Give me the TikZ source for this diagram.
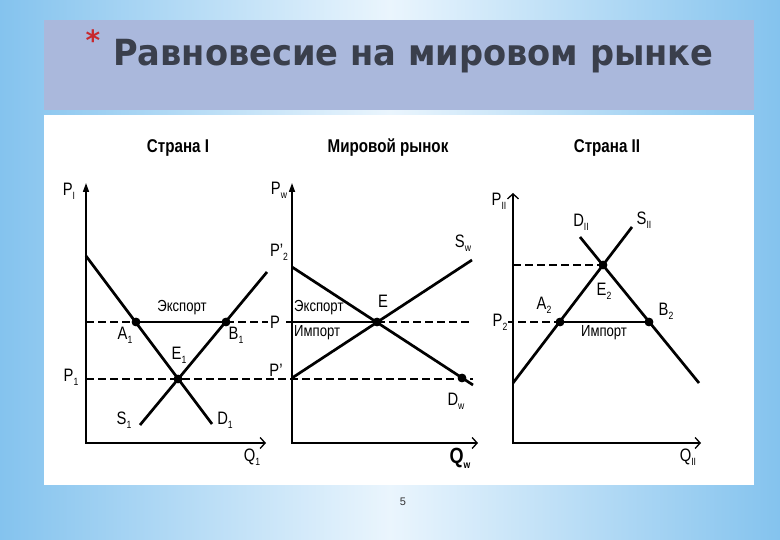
\documentclass[tikz,border=0pt]{standalone}
\usepackage{fontspec}
\usepackage{graphicx}
\setmainfont{Liberation Sans}[FakeStretch=0.82]
\newfontfamily\titlefont{DejaVu Sans}
\newfontfamily\plainfont{Liberation Sans}
\usetikzlibrary{arrows.meta}
\definecolor{bgout}{HTML}{84C3EE}
\definecolor{bgin}{HTML}{EAF5FD}
\definecolor{band}{HTML}{AAB8DC}
\definecolor{titlec}{HTML}{3A3F4C}
\definecolor{starc}{HTML}{C8282E}
\newcommand\sbx[1]{\raisebox{-0.45ex}{\fontsize{10.5}{10.5}\selectfont #1}}
\tikzset{
  curve/.style={line width=2.7pt},
  axisline/.style={line width=1.6pt},
  dashline/.style={line width=1.3pt, dash pattern=on 7.5pt off 4.5pt},
  solidline/.style={line width=1.3pt},
  dot/.style={circle, fill=black, inner sep=0pt, minimum size=8.5pt},
  lbl/.style={font=\fontsize{16}{16}\selectfont, inner sep=1pt},
  sym/.style={font=\fontsize{18}{18}\selectfont, inner sep=1pt},
  ttl/.style={font=\bfseries\fontsize{18.5}{18.5}\selectfont, inner sep=1pt},
  tipfill/.tip={Triangle[length=9pt,width=6pt]},
  tipopen/.tip={Straight Barb[length=5pt,width=11pt,line width=1.3pt]}
}
\begin{document}
\begin{tikzpicture}[x=1pt,y=-1pt]
\useasboundingbox (0,0) rectangle (780,540);
% background
\shade[left color=bgout, right color=bgout, middle color=bgin] (0,0) rectangle (780,540);
\fill[band] (44,20) rectangle (754,110);
\fill[white] (44,115) rectangle (754,485);
% title
\node[text=starc, font=\titlefont\bfseries\fontsize{28}{28}\selectfont, inner sep=0pt] (star) at (93,40) {*};
\node[anchor=base west, text=titlec, inner sep=0pt, font=\titlefont\bfseries\fontsize{36}{36}\selectfont] (title) at (113,66) {\scalebox{0.935}[1]{Равновесие на мировом рынке}};
% panel titles
\node[ttl] (t1) at (178,148) {Страна I};
\node[ttl] (t2) at (388,148) {Мировой рынок};
\node[ttl] (t3) at (607,148) {Страна II};
% coordinates
\coordinate (O1) at (86,443); \coordinate (T1) at (86,183); \coordinate (R1) at (266,443);
\coordinate (O2) at (292,443); \coordinate (T2) at (292,183); \coordinate (R2) at (478,443);
\coordinate (O3) at (513,443); \coordinate (T3) at (513,193); \coordinate (R3) at (701,443);
\coordinate (D1a) at (86,256); \coordinate (D1b) at (212,424);
\coordinate (S1a) at (140,425); \coordinate (S1b) at (267,272);
\coordinate (Dwa) at (292,267); \coordinate (Dwb) at (473,385);
\coordinate (Swa) at (292,378); \coordinate (Swb) at (472,260);
\coordinate (D2a) at (580,237); \coordinate (D2b) at (699,383);
\coordinate (S2a) at (513,383); \coordinate (S2b) at (632,227);
\coordinate (PL) at (86,322); \coordinate (PM) at (292,322); \coordinate (PR) at (473,322);
\coordinate (P1L) at (86,379); \coordinate (P1R) at (473,379);
\coordinate (P2L) at (506,322); \coordinate (EL) at (513,265);
% points
\node[dot] (E1) at (178,379) {};
\node[dot] (A1) at (136,322) {};
\node[dot] (B1) at (226,322) {};
\node[dot] (E) at (377,322) {};
\node[dot] (Dd) at (462,378) {};
\node[dot] (E2) at (603,265) {};
\node[dot] (A2) at (560,322) {};
\node[dot] (B2) at (649,322) {};
% horizontal lines
\draw[dashline] (PL) -- (A1.center);
\draw[solidline] (A1.center) -- (B1.center);
\draw[dashline] (B1.center) -- (PM);
\draw[solidline] (PM) -- (E.center);
\draw[dashline] (E.center) -- (PR);
\draw[dashline] (P1L) -- (P1R);
\draw[dashline] (P2L) -- (A2.center);
\draw[solidline] (A2.center) -- (B2.center);
\draw[dashline] (EL) -- (E2.center);
% axes
\draw[axisline, tipfill-tipopen] (T1) -- (O1) -- (R1);
\draw[axisline, tipfill-tipopen] (T2) -- (O2) -- (R2);
\draw[axisline, tipopen-tipopen] (T3) -- (O3) -- (R3);
% curves
\draw[curve] (D1a) -- (D1b);
\draw[curve] (S1a) -- (S1b);
\draw[curve] (Dwa) -- (Dwb);
\draw[curve] (Swa) -- (Swb);
\draw[curve] (D2a) -- (D2b);
\draw[curve] (S2a) -- (S2b);
% redraw dots on top
\foreach \n in {E1,A1,B1,E,Dd,E2,A2,B2} \fill (\n) circle (4.3pt);
% labels left
\node[sym] (lPI) at (69,191) {P\sbx{I}};
\node[lbl] (lEx1) at (182,308) {Экспорт};
\node[sym] (lA1) at (125,335) {A\sbx{1}};
\node[sym] (lB1) at (236,335) {B\sbx{1}};
\node[sym] (lE1) at (179,355) {E\sbx{1}};
\node[sym] (lP1) at (71,377) {P\sbx{1}};
\node[sym] (lS1) at (124,420) {S\sbx{1}};
\node[sym] (lD1) at (225,420) {D\sbx{1}};
\node[sym] (lQ1) at (252,457) {Q\sbx{1}};
% labels middle
\node[sym] (lPw) at (279,190) {P\sbx{w}};
\node[sym] (lP2p) at (279,252) {P’\sbx{2}};
\node[sym] (lSw) at (463,243) {S\sbx{w}};
\node[sym] (lE) at (383,301) {E};
\node[lbl, anchor=west] (lEx2) at (293,308) {Экспорт};
\node[sym, fill=white, inner sep=2pt] (lP) at (275,322) {P};
\node[lbl, anchor=west] (lIm2) at (293,333) {Импорт};
\node[sym, fill=white, inner sep=1pt] (lPp) at (276,370) {P’};
\node[sym] (lDw) at (456,401) {D\sbx{w}};
\node[font=\bfseries\fontsize{22}{22}\selectfont, inner sep=1pt] (lQw) at (460,458) {Q\sbx{w}};
% labels right
\node[sym] (lPII) at (499,201) {P\sbx{II}};
\node[sym] (lDII) at (581,222) {D\sbx{II}};
\node[sym] (lSII) at (644,220) {S\sbx{II}};
\node[sym] (lE2) at (604,291) {E\sbx{2}};
\node[sym] (lA2) at (544,305) {A\sbx{2}};
\node[sym] (lB2) at (666,311) {B\sbx{2}};
\node[sym, fill=white, inner sep=1pt] (lP2) at (500,322) {P\sbx{2}};
\node[lbl] (lIm3) at (604,333) {Импорт};
\node[sym] (lQII) at (688,457) {Q\sbx{II}};
% page number
\node[font=\plainfont\fontsize{11}{11}\selectfont, text=black!80] (pg) at (403,502) {5};
\end{tikzpicture}
\end{document}
